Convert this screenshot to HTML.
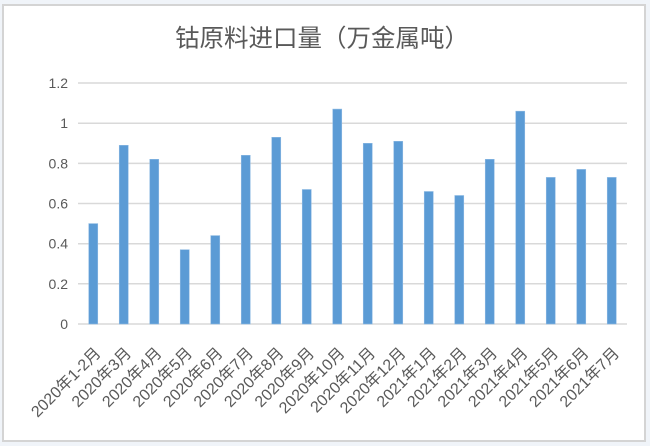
<!DOCTYPE html>
<html>
<head>
<meta charset="utf-8">
<style>
  html, body { margin: 0; padding: 0; background: #f0f4f9; }
  svg { display: block; }
  text { font-family: "Liberation Sans", "Noto Sans CJK SC", sans-serif; fill: #595959; }
</style>
</head>
<body>
<svg width="650" height="446" viewBox="0 0 650 446" xmlns="http://www.w3.org/2000/svg">
  <rect x="0" y="0" width="650" height="446" fill="#f0f4f9"/>
  <rect x="3" y="5" width="642" height="436" fill="#ffffff" stroke="#d4d4d4" stroke-width="2"/>

  <text x="175" y="39" font-size="24.5" dominant-baseline="central">钴原料进口量（万金属吨）</text>

  <g stroke="#d9d9d9" stroke-width="1.5">
    <line x1="78" x2="627" y1="83" y2="83"/>
    <line x1="78" x2="627" y1="123.2" y2="123.2"/>
    <line x1="78" x2="627" y1="163.4" y2="163.4"/>
    <line x1="78" x2="627" y1="203.5" y2="203.5"/>
    <line x1="78" x2="627" y1="243.7" y2="243.7"/>
    <line x1="78" x2="627" y1="283.8" y2="283.8"/>
    <line x1="78" x2="627" y1="324" y2="324"/>
  </g>

  <g font-size="14" text-anchor="end" dominant-baseline="central">
    <text x="68" y="83">1.2</text>
    <text x="68" y="123.2">1</text>
    <text x="68" y="163.4">0.8</text>
    <text x="68" y="203.5">0.6</text>
    <text x="68" y="243.7">0.4</text>
    <text x="68" y="283.8">0.2</text>
    <text x="68" y="324">0</text>
  </g>

  <g fill="#5b9bd5" stroke="#8fbbe3" stroke-width="0.6">
    <rect x="88.75" y="223.6" width="9" height="100.4"/>
    <rect x="119.25" y="145.3" width="9" height="178.7"/>
    <rect x="149.75" y="159.3" width="9" height="164.7"/>
    <rect x="180.25" y="249.7" width="9" height="74.3"/>
    <rect x="210.75" y="235.6" width="9" height="88.4"/>
    <rect x="241.25" y="155.3" width="9" height="168.7"/>
    <rect x="271.75" y="137.3" width="9" height="186.7"/>
    <rect x="302.25" y="189.5" width="9" height="134.5"/>
    <rect x="332.75" y="109.1" width="9" height="214.9"/>
    <rect x="363.25" y="143.3" width="9" height="180.7"/>
    <rect x="393.75" y="141.3" width="9" height="182.7"/>
    <rect x="424.25" y="191.5" width="9" height="132.5"/>
    <rect x="454.75" y="195.5" width="9" height="128.5"/>
    <rect x="485.25" y="159.3" width="9" height="164.7"/>
    <rect x="515.75" y="111.2" width="9" height="212.8"/>
    <rect x="546.25" y="177.4" width="9" height="146.6"/>
    <rect x="576.75" y="169.4" width="9" height="154.6"/>
    <rect x="607.25" y="177.4" width="9" height="146.6"/>
  </g>

  <g font-size="16" text-anchor="end">
    <text transform="translate(101.75,354) rotate(-45)">2020年1-2月</text>
    <text transform="translate(132.25,354) rotate(-45)">2020年3月</text>
    <text transform="translate(162.75,354) rotate(-45)">2020年4月</text>
    <text transform="translate(193.25,354) rotate(-45)">2020年5月</text>
    <text transform="translate(223.75,354) rotate(-45)">2020年6月</text>
    <text transform="translate(254.25,354) rotate(-45)">2020年7月</text>
    <text transform="translate(284.75,354) rotate(-45)">2020年8月</text>
    <text transform="translate(315.25,354) rotate(-45)">2020年9月</text>
    <text transform="translate(345.75,354) rotate(-45)">2020年10月</text>
    <text transform="translate(376.25,354) rotate(-45)">2020年11月</text>
    <text transform="translate(406.75,354) rotate(-45)">2020年12月</text>
    <text transform="translate(437.25,354) rotate(-45)">2021年1月</text>
    <text transform="translate(467.75,354) rotate(-45)">2021年2月</text>
    <text transform="translate(498.25,354) rotate(-45)">2021年3月</text>
    <text transform="translate(528.75,354) rotate(-45)">2021年4月</text>
    <text transform="translate(559.25,354) rotate(-45)">2021年5月</text>
    <text transform="translate(589.75,354) rotate(-45)">2021年6月</text>
    <text transform="translate(620.25,354) rotate(-45)">2021年7月</text>
  </g>
</svg>
</body>
</html>
